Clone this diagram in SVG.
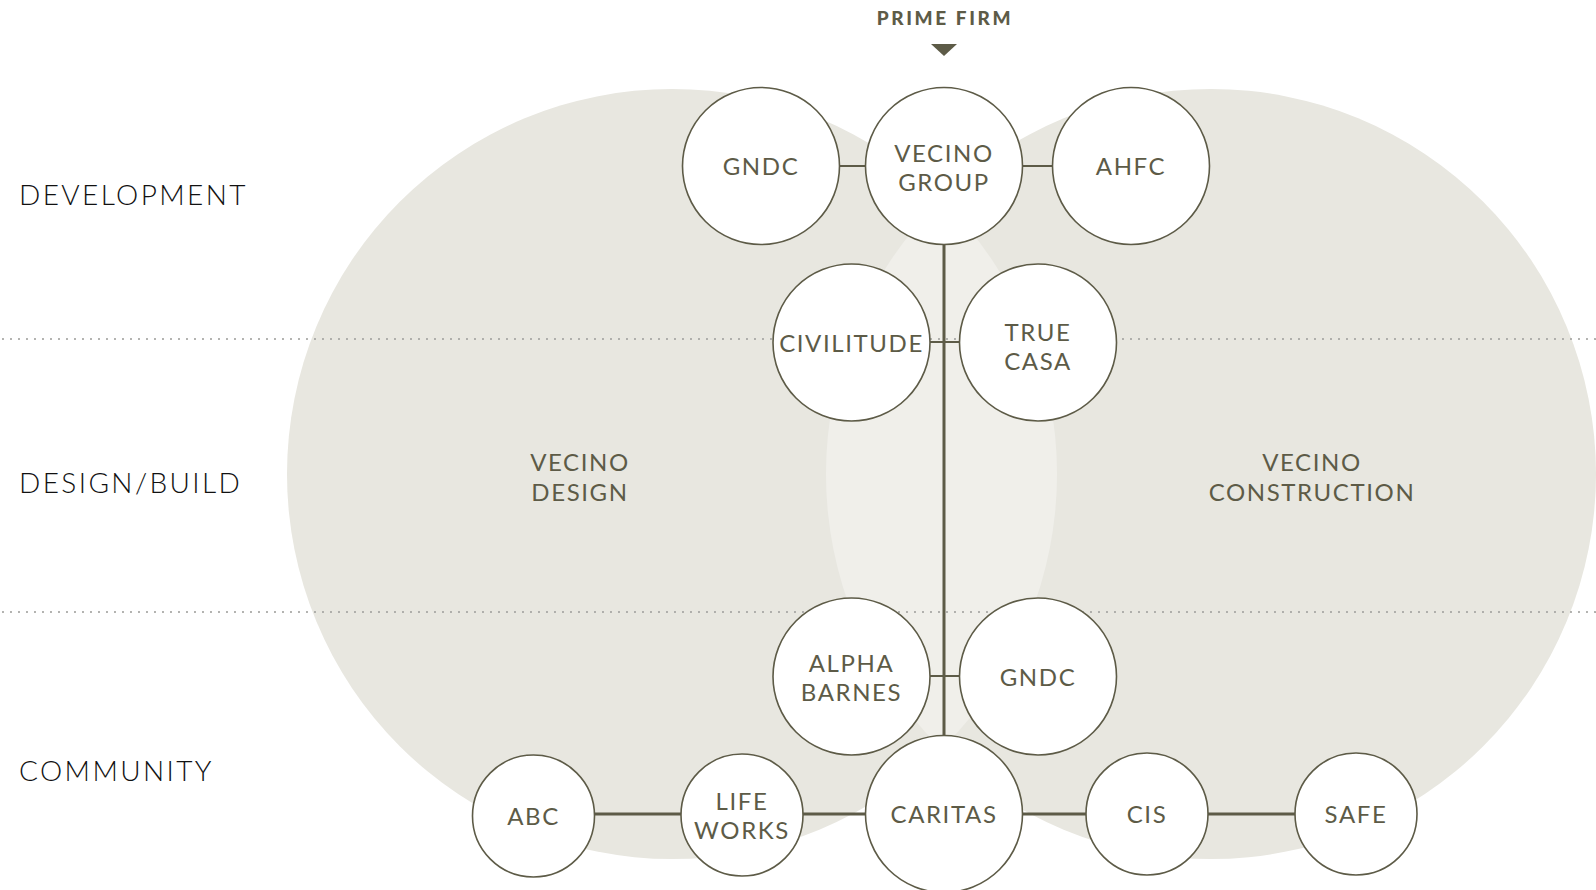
<svg xmlns="http://www.w3.org/2000/svg" width="1596" height="890" viewBox="0 0 1596 890">
<defs>
<style>
.bg{fill:#e8e7e0}
.lens{fill:#f0efea}
.dot{stroke:#a3a3a0;stroke-width:2.2;stroke-linecap:round;stroke-dasharray:0 8;fill:none}
.node{fill:#fff;stroke:#5d5b47;stroke-width:1.6}
.lbl{font-family:Lato,"Noto Sans","Liberation Sans",sans-serif;font-size:24px;fill:#5d5b47;text-anchor:middle;letter-spacing:1.6px}
.grp{font-family:Lato,"Noto Sans","Liberation Sans",sans-serif;font-size:24px;fill:#5d5b47;text-anchor:middle;letter-spacing:1.6px}
.row{font-family:Lato,"Noto Sans","Liberation Sans",sans-serif;font-size:28px;font-weight:300;fill:#111;letter-spacing:2.4px}
.c2{stroke:#5d5b47;stroke-width:2;fill:none}
.c3{stroke:#5d5b47;stroke-width:3;fill:none}
</style>
<clipPath id="leftClip"><circle cx="672" cy="474" r="385"/></clipPath>
</defs>
<rect width="1596" height="890" fill="#fff"/>
<g id="groups">
<circle class="bg" cx="672" cy="474" r="385"/>
<circle class="bg" cx="1211" cy="474" r="385"/>
<circle class="lens" cx="1211" cy="474" r="385" clip-path="url(#leftClip)"/>
<text class="grp" x="580" y="471">VECINO</text>
<text class="grp" x="580" y="501">DESIGN</text>
<text class="grp" x="1312" y="471">VECINO</text>
<text class="grp" x="1312" y="501">CONSTRUCTION</text>
</g>
<g id="dividers">
<line class="dot" x1="3" y1="339" x2="1596" y2="339"/>
<line class="dot" x1="3" y1="612" x2="1596" y2="612"/>
</g>
<g id="rows">
<text class="row" x="19" y="205">DEVELOPMENT</text>
<text class="row" x="19" y="493">DESIGN/BUILD</text>
<text class="row" x="19" y="781">COMMUNITY</text>
</g>
<g id="prime">
<text x="945" y="25" font-family="Lato,'Noto Sans','Liberation Sans',sans-serif" font-size="19" font-weight="900" fill="#5d5b47" text-anchor="middle" letter-spacing="2.6">PRIME FIRM</text>
<polygon points="931,44 957,44 944,56" fill="#5d5b47"/>
</g>
<g id="connectors">
<line class="c2" x1="761" y1="166" x2="1131" y2="166"/>
<line class="c3" x1="944" y1="166" x2="944" y2="814"/>
<line class="c2" x1="851" y1="342" x2="1038" y2="342"/>
<line class="c2" x1="851" y1="676" x2="1038" y2="676"/>
<line class="c3" x1="533" y1="814" x2="1356" y2="814"/>
</g>
<g id="n-gndc-top"><circle class="node" cx="761" cy="166" r="78.5"/><text class="lbl" x="761" y="175">GNDC</text></g>
<g id="n-vecino-group"><circle class="node" cx="944" cy="166" r="78.5"/><text class="lbl" x="944" y="162">VECINO</text><text class="lbl" x="944" y="191">GROUP</text></g>
<g id="n-ahfc"><circle class="node" cx="1131" cy="166" r="78.5"/><text class="lbl" x="1131" y="175">AHFC</text></g>
<g id="n-civilitude"><circle class="node" cx="851.5" cy="342.5" r="78.5"/><text class="lbl" x="851.5" y="352" letter-spacing="1">CIVILITUDE</text></g>
<g id="n-true-casa"><circle class="node" cx="1038" cy="342.5" r="78.5"/><text class="lbl" x="1038" y="341">TRUE</text><text class="lbl" x="1038" y="370">CASA</text></g>
<g id="n-alpha-barnes"><circle class="node" cx="851.5" cy="676.5" r="78.5"/><text class="lbl" x="851.5" y="672">ALPHA</text><text class="lbl" x="851.5" y="701">BARNES</text></g>
<g id="n-gndc-bottom"><circle class="node" cx="1038" cy="676.5" r="78.5"/><text class="lbl" x="1038" y="686">GNDC</text></g>
<g id="n-caritas"><circle class="node" cx="944" cy="814" r="78.5"/><text class="lbl" x="944" y="823">CARITAS</text></g>
<g id="n-abc"><circle class="node" cx="533.5" cy="816" r="61"/><text class="lbl" x="533.5" y="825">ABC</text></g>
<g id="n-life-works"><circle class="node" cx="742" cy="815" r="61"/><text class="lbl" x="742" y="810">LIFE</text><text class="lbl" x="742" y="839">WORKS</text></g>
<g id="n-cis"><circle class="node" cx="1147" cy="814" r="61"/><text class="lbl" x="1147" y="823">CIS</text></g>
<g id="n-safe"><circle class="node" cx="1356" cy="814" r="61"/><text class="lbl" x="1356" y="823">SAFE</text></g>
</svg>
